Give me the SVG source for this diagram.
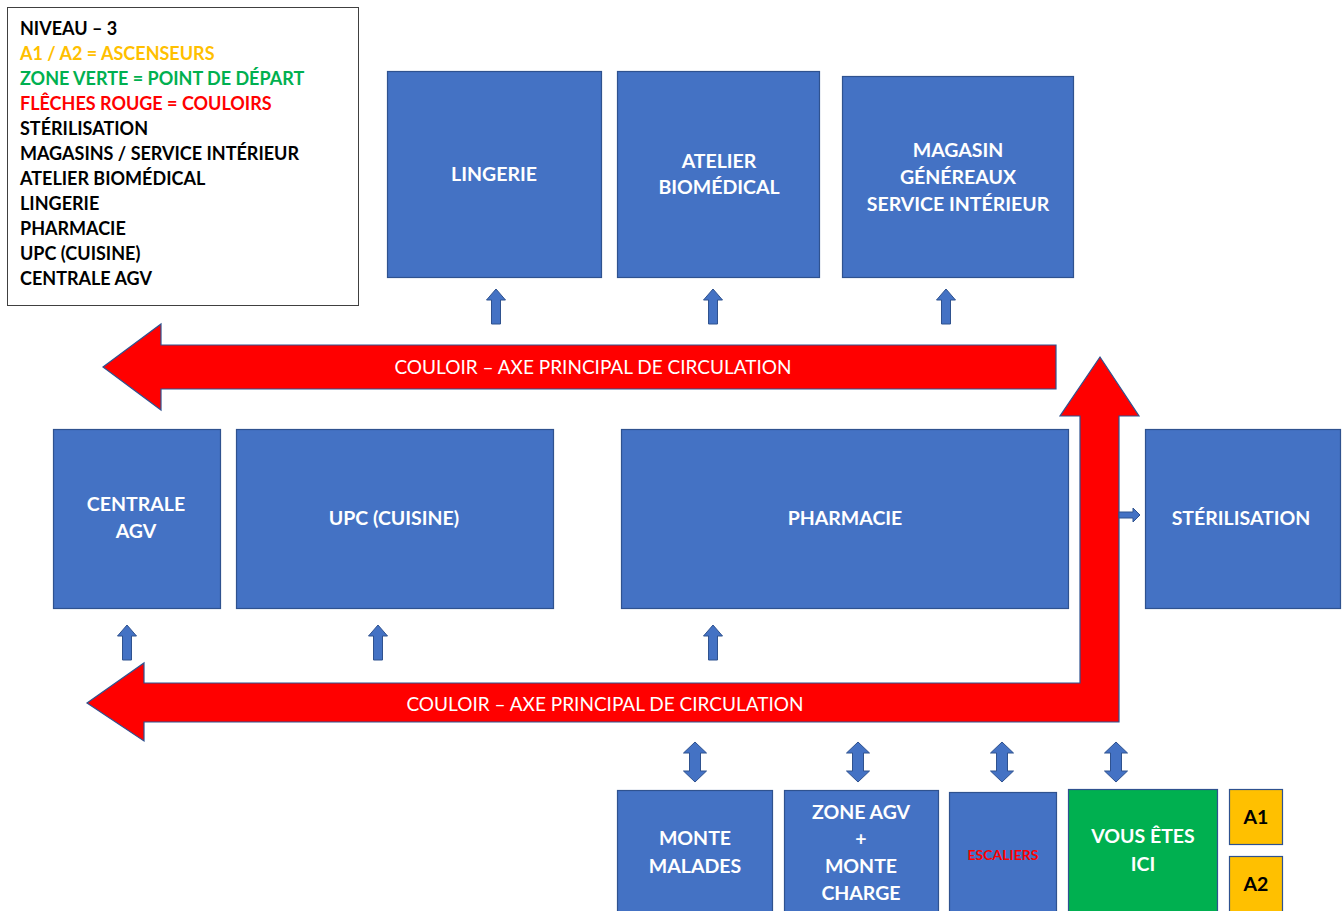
<svg xmlns="http://www.w3.org/2000/svg" width="1342" height="911" viewBox="0 0 1342 911">
<style>
.box{fill:#4472C4;stroke:#2F528F;stroke-width:1.2}
.green{fill:#00B050;stroke:#2F528F;stroke-width:1.2}
.yellow{fill:#FFC000;stroke:#2F528F;stroke-width:1.2}
.red{fill:#FF0000;stroke:#2F528F;stroke-width:1.2;stroke-linejoin:miter}
.blue-arrow{fill:#4472C4;stroke:#2F528F;stroke-width:1}
.lbl{font-family:Lato,"Open Sans","Liberation Sans",sans-serif;font-weight:bold;font-size:19.5px;fill:#FFFFFF;text-anchor:middle}
.lbk{fill:#000000}
.leg{font-family:Lato,"Open Sans","Liberation Sans",sans-serif;font-weight:bold;font-size:18px;fill:#000000}
.axe{font-family:Lato,"Open Sans","Liberation Sans",sans-serif;font-size:19px;fill:#FFFFFF;text-anchor:middle}
</style>
<defs>
<path id="up" d="M0,0 L9.5,11 L4.5,11 L4.5,35 L-4.5,35 L-4.5,11 L-9.5,11 Z"/>
<path id="dbl" d="M0,0 L11.5,11 L5.5,11 L5.5,29 L11.5,29 L0,40 L-11.5,29 L-5.5,29 L-5.5,11 L-11.5,11 Z"/>
</defs>
<rect width="1342" height="911" fill="#FFFFFF"/>

<g id="legend">
<rect x="7.5" y="7.5" width="351" height="298" fill="#FFFFFF" stroke="#404040" stroke-width="1"/>
<text class="leg" x="20" y="35">NIVEAU – 3</text>
<text class="leg" x="20" y="60" style="fill:#FFC000">A1 / A2 = ASCENSEURS</text>
<text class="leg" x="20" y="85" style="fill:#00B050">ZONE VERTE = POINT DE DÉPART</text>
<text class="leg" x="20" y="110" style="fill:#FF0000">FLÊCHES ROUGE = COULOIRS</text>
<text class="leg" x="20" y="135">STÉRILISATION</text>
<text class="leg" x="20" y="160">MAGASINS / SERVICE INTÉRIEUR</text>
<text class="leg" x="20" y="185">ATELIER BIOMÉDICAL</text>
<text class="leg" x="20" y="210">LINGERIE</text>
<text class="leg" x="20" y="235">PHARMACIE</text>
<text class="leg" x="20" y="260">UPC (CUISINE)</text>
<text class="leg" x="20" y="285">CENTRALE AGV</text>
</g>

<g id="lingerie">
<rect class="box" x="387.5" y="71.5" width="214" height="206"/>
<text class="lbl" x="494" y="181">LINGERIE</text>
</g>
<g id="atelier">
<rect class="box" x="617.5" y="71.5" width="202" height="206"/>
<text class="lbl" x="719" y="168">ATELIER</text>
<text class="lbl" x="719" y="194">BIOMÉDICAL</text>
</g>
<g id="magasin">
<rect class="box" x="842.5" y="76.5" width="231" height="201"/>
<text class="lbl" x="958" y="157">MAGASIN</text>
<text class="lbl" x="958" y="184">GÉNÉREAUX</text>
<text class="lbl" x="958" y="211">SERVICE INTÉRIEUR</text>
</g>
<g id="centrale-agv">
<rect class="box" x="53.5" y="429.5" width="167" height="179"/>
<text class="lbl" x="136" y="511">CENTRALE</text>
<text class="lbl" x="136" y="538">AGV</text>
</g>
<g id="upc">
<rect class="box" x="236.5" y="429.5" width="317" height="179"/>
<text class="lbl" x="394" y="525">UPC (CUISINE)</text>
</g>
<g id="pharmacie">
<rect class="box" x="621.5" y="429.5" width="447" height="179"/>
<text class="lbl" x="845" y="525">PHARMACIE</text>
</g>
<g id="sterilisation">
<rect class="box" x="1145.5" y="429.5" width="195" height="179"/>
<text class="lbl" x="1241" y="525">STÉRILISATION</text>
</g>
<g id="monte-malades">
<rect class="box" x="617.5" y="790.5" width="155" height="125"/>
<text class="lbl" x="695" y="845">MONTE</text>
<text class="lbl" x="695" y="873">MALADES</text>
</g>
<g id="zone-agv">
<rect class="box" x="784.5" y="790.5" width="154" height="125"/>
<text class="lbl" x="861" y="819">ZONE AGV</text>
<text class="lbl" x="861" y="846">+</text>
<text class="lbl" x="861" y="873">MONTE</text>
<text class="lbl" x="861" y="900">CHARGE</text>
</g>
<g id="escaliers">
<rect class="box" x="949.5" y="792.5" width="107" height="125"/>
<text class="lbl" x="1003" y="860" style="fill:#FF0000;font-size:14px">ESCALIERS</text>
</g>
<g id="vous-etes-ici">
<rect class="green" x="1068.5" y="789.5" width="149" height="126"/>
<text class="lbl" x="1143" y="843">VOUS ÊTES</text>
<text class="lbl" x="1143" y="871">ICI</text>
</g>
<g id="a1">
<rect class="yellow" x="1229.5" y="789.5" width="53" height="55"/>
<text class="lbl lbk" x="1256" y="824">A1</text>
</g>
<g id="a2">
<rect class="yellow" x="1229.5" y="856.5" width="53" height="60"/>
<text class="lbl lbk" x="1256" y="891">A2</text>
</g>

<g id="connectors">
<g id="corridor-top">
<polygon class="red" points="103,367 161,324 161,345 1056,345 1056,389 161,389 161,410"/>
<text class="axe" x="593" y="374">COULOIR – AXE PRINCIPAL DE CIRCULATION</text>
</g>
<g id="corridor-bottom">
<polygon class="red" points="87,703 144,663 144,683 1080,683 1080,416 1060,416 1100,357 1139,416 1119,416 1119,722 144,722 144,741"/>
<text class="axe" x="605" y="711">COULOIR – AXE PRINCIPAL DE CIRCULATION</text>
</g>
<use href="#up" class="blue-arrow" x="496" y="289"/>
<use href="#up" class="blue-arrow" x="713" y="289"/>
<use href="#up" class="blue-arrow" x="946" y="289"/>
<use href="#up" class="blue-arrow" x="127" y="625"/>
<use href="#up" class="blue-arrow" x="378" y="625"/>
<use href="#up" class="blue-arrow" x="713" y="625"/>
<path class="blue-arrow" d="M1119,512 L1133,512 L1133,508 L1140,515 L1133,522 L1133,518 L1119,518 Z"/>
<use href="#dbl" class="blue-arrow" x="695" y="742"/>
<use href="#dbl" class="blue-arrow" x="858" y="742"/>
<use href="#dbl" class="blue-arrow" x="1002" y="742"/>
<use href="#dbl" class="blue-arrow" x="1116" y="742"/>
</g>
</svg>
